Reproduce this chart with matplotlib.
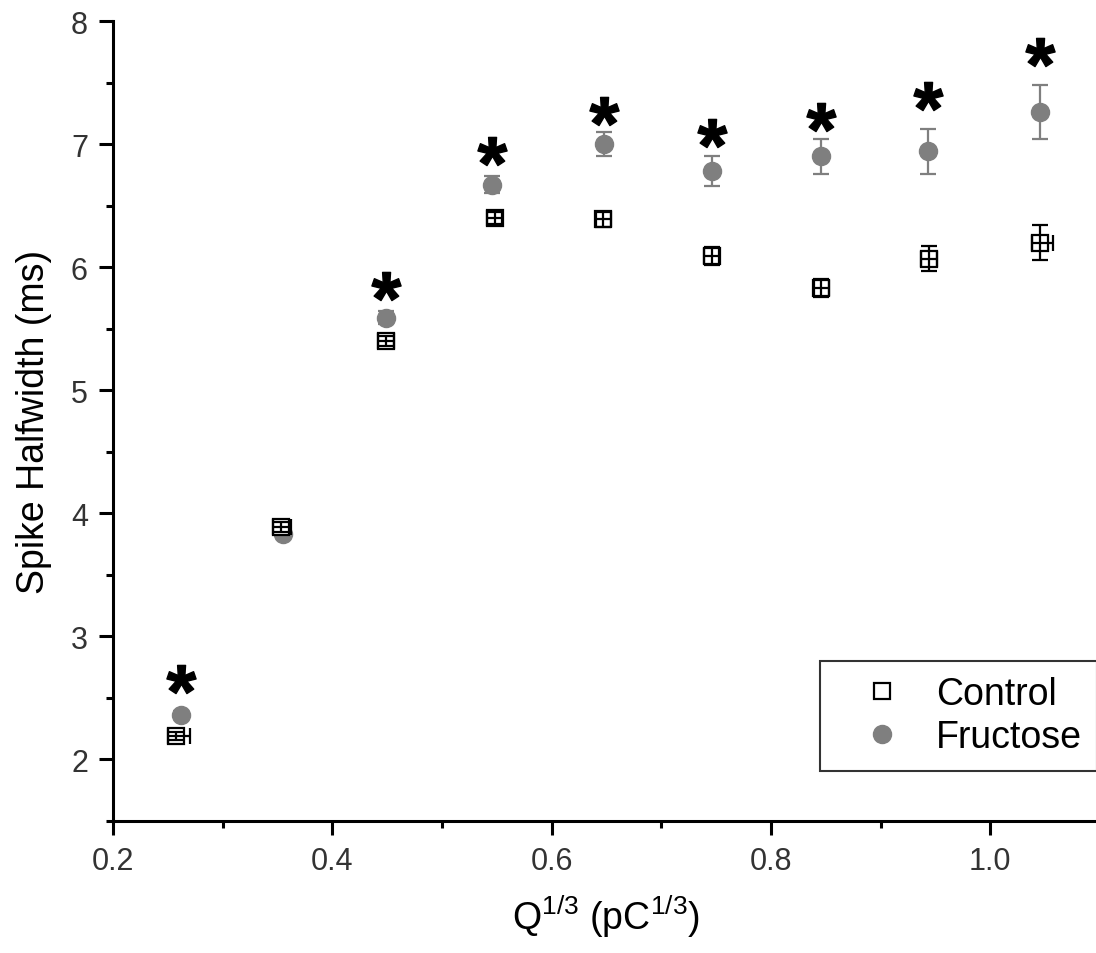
import numpy as np
import matplotlib
matplotlib.use('Agg')
import matplotlib.pyplot as plt
from matplotlib.ticker import MultipleLocator, FormatStrFormatter
from matplotlib.textpath import TextPath
from matplotlib.font_manager import FontProperties
from matplotlib.path import Path
from matplotlib.lines import Line2D

plt.rcParams['font.family'] = ['Liberation Sans', 'DejaVu Sans']
plt.rcParams['mathtext.fontset'] = 'custom'
plt.rcParams['mathtext.rm'] = 'Liberation Sans'
plt.rcParams['mathtext.it'] = 'Liberation Sans:italic'

# valores
x_ctrl = [0.257, 0.353, 0.449, 0.548, 0.647, 0.746, 0.846, 0.944, 1.045]
y_ctrl = [2.19, 3.89, 5.40, 6.40, 6.39, 6.09, 5.83, 6.07, 6.20]
err_ctrl = [0.03, 0.04, 0.04, 0.05, 0.06, 0.07, 0.07, 0.10, 0.14]
xerr_ctrl_esq = [0.007, 0.007, 0.007, 0.007, 0.007, 0.007, 0.007, 0.007, 0.007]
xerr_ctrl_dir = [0.013, 0.009, 0.007, 0.007, 0.007, 0.007, 0.007, 0.007, 0.012]

x_fru = [0.262, 0.355, 0.449, 0.546, 0.648, 0.746, 0.846, 0.943, 1.045]
y_fru = [2.36, 3.83, 5.59, 6.67, 7.00, 6.78, 6.90, 6.94, 7.26]
err_fru = [0.03, 0.03, 0.05, 0.07, 0.10, 0.12, 0.14, 0.18, 0.22]

# asteriscos de significancia
x_sig = [0.262, 0.449, 0.546, 0.648, 0.746, 0.846, 0.943, 1.045]
y_sig = [2.65, 5.85, 6.94, 7.27, 7.09, 7.22, 7.39, 7.75]

CINZA = '#7f7f7f'

# marcador de asterisco a partir da fonte (centrado, sem vertices de CLOSEPOLY soltos)
tp = TextPath((0, 0), '*', prop=FontProperties(family='Liberation Sans', weight='bold'))
v = tp.vertices.copy()
codes = tp.codes
inicio = 0
for i, c in enumerate(codes):
    if c == Path.MOVETO:
        inicio = i
    elif c == Path.CLOSEPOLY:
        v[i] = v[inicio]
ext = Path(v, codes).get_extents()
v[:, 0] -= (ext.x0 + ext.x1) / 2
v[:, 1] -= (ext.y0 + ext.y1) / 2
asterisco = Path(v, codes)

fig = plt.figure(figsize=(10.96, 9.54), dpi=100)
ax = fig.add_axes([113 / 1096, 132 / 954, (1100 - 113) / 1096, (822 - 22) / 954])

# Fructose
ax.errorbar(x_fru, y_fru, yerr=err_fru, fmt='o', color=CINZA, ms=13, mec=CINZA,
            ecolor=CINZA, elinewidth=1.6, capsize=5.5, capthick=1.6, zorder=3)

# Control (quadrado branco, barras por cima)
ax.plot(x_ctrl, y_ctrl, 's', ms=12, mfc='white', mec='black', mew=1.6, zorder=4)
ax.errorbar(x_ctrl, y_ctrl, yerr=err_ctrl, xerr=[xerr_ctrl_esq, xerr_ctrl_dir], fmt='none',
            ecolor='black', elinewidth=1.6, capsize=6, capthick=1.6, zorder=5)

ax.plot(x_sig, y_sig, ls='none', marker=asterisco, ms=21, color='black', zorder=6)

ax.set_xlim(0.2, 1.1)
ax.set_ylim(1.5, 8)
ax.xaxis.set_major_locator(MultipleLocator(0.2))
ax.xaxis.set_minor_locator(MultipleLocator(0.1))
ax.xaxis.set_major_formatter(FormatStrFormatter('%.1f'))
ax.yaxis.set_major_locator(MultipleLocator(1))
ax.yaxis.set_minor_locator(MultipleLocator(0.5))

for lado in ['top', 'right']:
    ax.spines[lado].set_visible(False)
for lado in ['left', 'bottom']:
    ax.spines[lado].set_linewidth(2.2)

ax.tick_params(which='major', length=10, width=2.2, labelsize=22, pad=8, labelcolor='#333333')
ax.tick_params(which='minor', length=5, width=2.2)

ax.set_ylabel('Spike Halfwidth (ms)', fontsize=27, labelpad=14)
ax.set_xlabel(r'Q$^{1/3}$ (pC$^{1/3}$)', fontsize=27, labelpad=12)

h_ctrl = Line2D([], [], ls='none', marker='s', ms=12, mfc='white', mec='black', mew=1.6)
h_fru = Line2D([], [], ls='none', marker='o', ms=13, color=CINZA)
leg = ax.legend([h_ctrl, h_fru], ['Control', 'Fructose'], loc='upper left',
                bbox_to_anchor=(820 / 1096, 1 - 662 / 954), bbox_transform=fig.transFigure,
                fontsize=27, frameon=True, fancybox=False, edgecolor='black',
                borderpad=0.4, handlelength=2.5, handletextpad=0.2, labelspacing=0.2,
                borderaxespad=0, numpoints=1)
leg.get_frame().set_linewidth(1.5)

plt.savefig('out.png', dpi=100)
